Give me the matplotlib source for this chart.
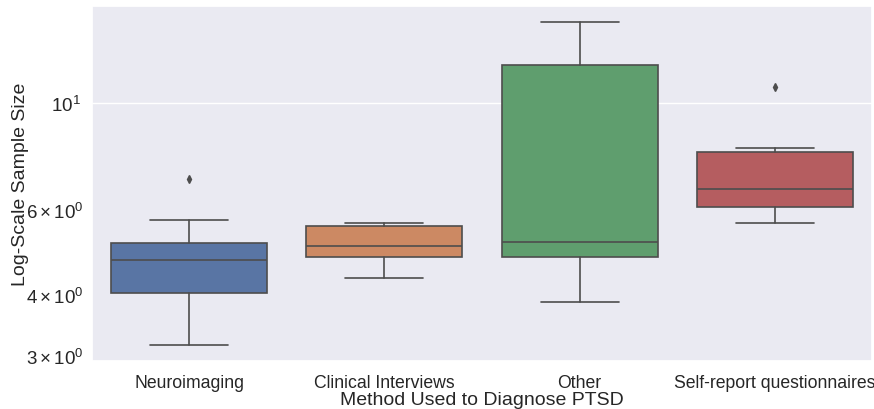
import numpy as np
import matplotlib
matplotlib.use("Agg")
import matplotlib.pyplot as plt
import seaborn as sns

# =================== data ===================
methods = ["Neuroimaging", "Clinical Interviews", "Other", "Self-report questionnaires"]
whislo = [3.16, 4.35, 3.87, 5.65]
q1 = [4.05, 4.81, 4.80, 6.09]
med = [4.74, 5.06, 5.16, 6.63]
q3 = [5.14, 5.56, 11.98, 7.92]
whishi = [5.73, 5.65, 14.66, 8.05]
fliers = [[6.96], [], [], [10.78]]

# =================== style ===================
sns.set_theme(style="darkgrid")
plt.rcParams["font.family"] = ["Liberation Sans", "DejaVu Sans"]
plt.rcParams["mathtext.fontset"] = "custom"
plt.rcParams["mathtext.rm"] = "Liberation Sans"
plt.rcParams["mathtext.it"] = "Liberation Sans:italic"
plt.rcParams["mathtext.bf"] = "Liberation Sans:bold"

colors = sns.color_palette("deep", 4, desat=0.75)
gray = (0.3, 0.3, 0.3)
lw = 1.2

# =================== plot ===================
fig, ax = plt.subplots(figsize=(8.74, 4.1), dpi=100)
ax.set_yscale("log")

stats = []
for i, name in enumerate(methods):
    stats.append(dict(label=name, whislo=whislo[i], q1=q1[i], med=med[i],
                      q3=q3[i], whishi=whishi[i], fliers=fliers[i]))

bp = ax.bxp(stats, positions=range(len(methods)), widths=0.8, patch_artist=True,
            boxprops=dict(edgecolor=gray, linewidth=lw),
            whiskerprops=dict(color=gray, linewidth=lw),
            capprops=dict(color=gray, linewidth=lw),
            medianprops=dict(color=gray, linewidth=lw),
            flierprops=dict(marker="d", markersize=4, markerfacecolor=gray,
                            markeredgecolor=gray, linestyle="none"),
            capwidths=0.4)
for patch, c in zip(bp["boxes"], colors):
    patch.set_facecolor(c)

ax.set_xlim(-0.5, len(methods) - 0.5)
ax.xaxis.grid(False)
ax.set_xlabel("Method Used to Diagnose PTSD", fontsize=14, labelpad=0)
ax.set_ylabel("Log-Scale Sample Size", fontsize=14, labelpad=-2)
ax.tick_params(axis="x", labelsize=12.7, pad=3)
ax.tick_params(axis="y", which="both", labelsize=13.5, pad=2)

fig.subplots_adjust(left=0.105, right=0.998, top=0.983, bottom=0.117)
plt.savefig("out.png")
plt.close()
